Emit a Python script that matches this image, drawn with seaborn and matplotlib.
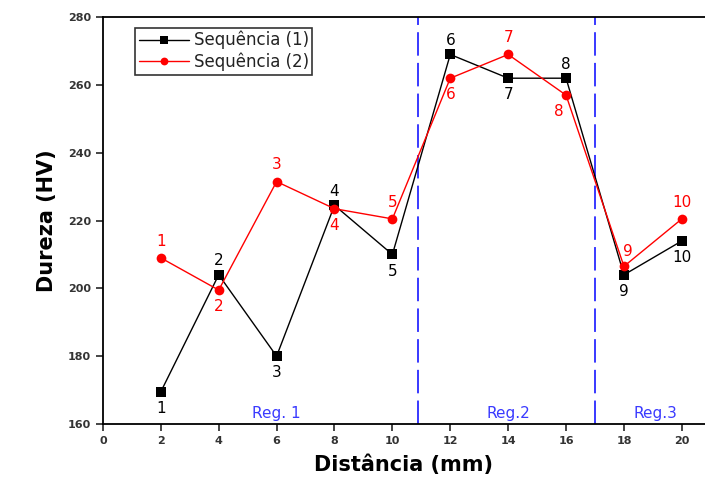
import numpy as np
import pandas as pd
import seaborn as sns
import matplotlib
matplotlib.use("Agg")
import matplotlib.pyplot as plt

# dados
distancia = [2, 4, 6, 8, 10, 12, 14, 16, 18, 20]
seq1 = [169.5, 204, 180, 224.5, 210, 269, 262, 262, 204, 214]
seq2 = [209, 199.5, 231.5, 223.5, 220.5, 262, 269, 257, 206.5, 220.5]
pontos = [str(i) for i in range(1, 11)]
limites = [10.9, 17]
regioes = ["Reg. 1", "Reg.2", "Reg.3"]
reg_x = [6, 14, 19.1]

sns.set_theme(style="white")
plt.rcParams['font.family'] = ['DejaVu Sans']

df = pd.DataFrame({"x": distancia * 2,
                   "y": seq1 + seq2,
                   "serie": ["Sequência (1)"] * 10 + ["Sequência (2)"] * 10})

fig = plt.figure(figsize=(7.05, 4.91), dpi=100)
ax = fig.add_axes([0.146, 0.1365, 0.854, 0.8285])

sns.lineplot(data=df, x="x", y="y", hue="serie", style="serie",
             palette={"Sequência (1)": "black", "Sequência (2)": "red"},
             markers={"Sequência (1)": "s", "Sequência (2)": "o"},
             dashes=False, markersize=7, linewidth=1, markeredgewidth=0,
             ax=ax)

# linhas de separação das regiões
for xv in limites:
    ax.axvline(xv, color="#2a2aff", linestyle=(0, (13, 4)), linewidth=1.3, zorder=0)

for txt, xv in zip(regioes, reg_x):
    ax.text(xv, 163, txt, color="#3a3aff", fontsize=11, ha="center", va="center")

# rótulos dos pontos
acima1 = {2, 4, 6, 8}
for i, (xv, yv) in enumerate(zip(distancia, seq1)):
    n = i + 1
    dy = 10 if n in acima1 else -12
    ax.annotate(pontos[i], (xv, yv), xytext=(0, dy), textcoords="offset points",
                ha="center", va="center", fontsize=11, color="black")

abaixo2 = {2, 4, 6}
for i, (xv, yv) in enumerate(zip(distancia, seq2)):
    n = i + 1
    dx, dy = 0, 12
    if n in abaixo2:
        dy = -12
    if n == 8:
        dx, dy = -5, -12
    if n == 9:
        dx, dy = 3, 11
    ax.annotate(pontos[i], (xv, yv), xytext=(dx, dy), textcoords="offset points",
                ha="center", va="center", fontsize=11, color="red")

ax.set_xlim(0, 20.8)
ax.set_ylim(160, 280)
ax.set_xticks(range(0, 21, 2))
ax.set_yticks(range(160, 281, 20))
ax.tick_params(axis="both", direction="out", length=5, width=1.2,
               labelsize=8, labelcolor="#333333", bottom=True, left=True)
for lab in ax.get_yticklabels() + ax.get_xticklabels():
    lab.set_fontweight("bold")

for s in ["left", "bottom", "top"]:
    ax.spines[s].set_linewidth(1.3)
    ax.spines[s].set_color("black")
ax.spines["right"].set_visible(False)

ax.set_xlabel("Distância (mm)", fontsize=15, fontweight="bold", labelpad=6, color="black")
ax.set_ylabel("Dureza (HV)", fontsize=15, fontweight="bold", labelpad=8, color="black")

leg = ax.legend(loc="upper left", bbox_to_anchor=(0.04, 0.995), fontsize=12,
                frameon=True, fancybox=False, edgecolor="black", markerscale=0.8,
                borderpad=0.2, handlelength=3, handletextpad=0.3, labelspacing=0.2)
leg.get_frame().set_linewidth(1.2)
for t in leg.get_texts():
    t.set_color("#222222")

fig.savefig("out.png", dpi=100)
